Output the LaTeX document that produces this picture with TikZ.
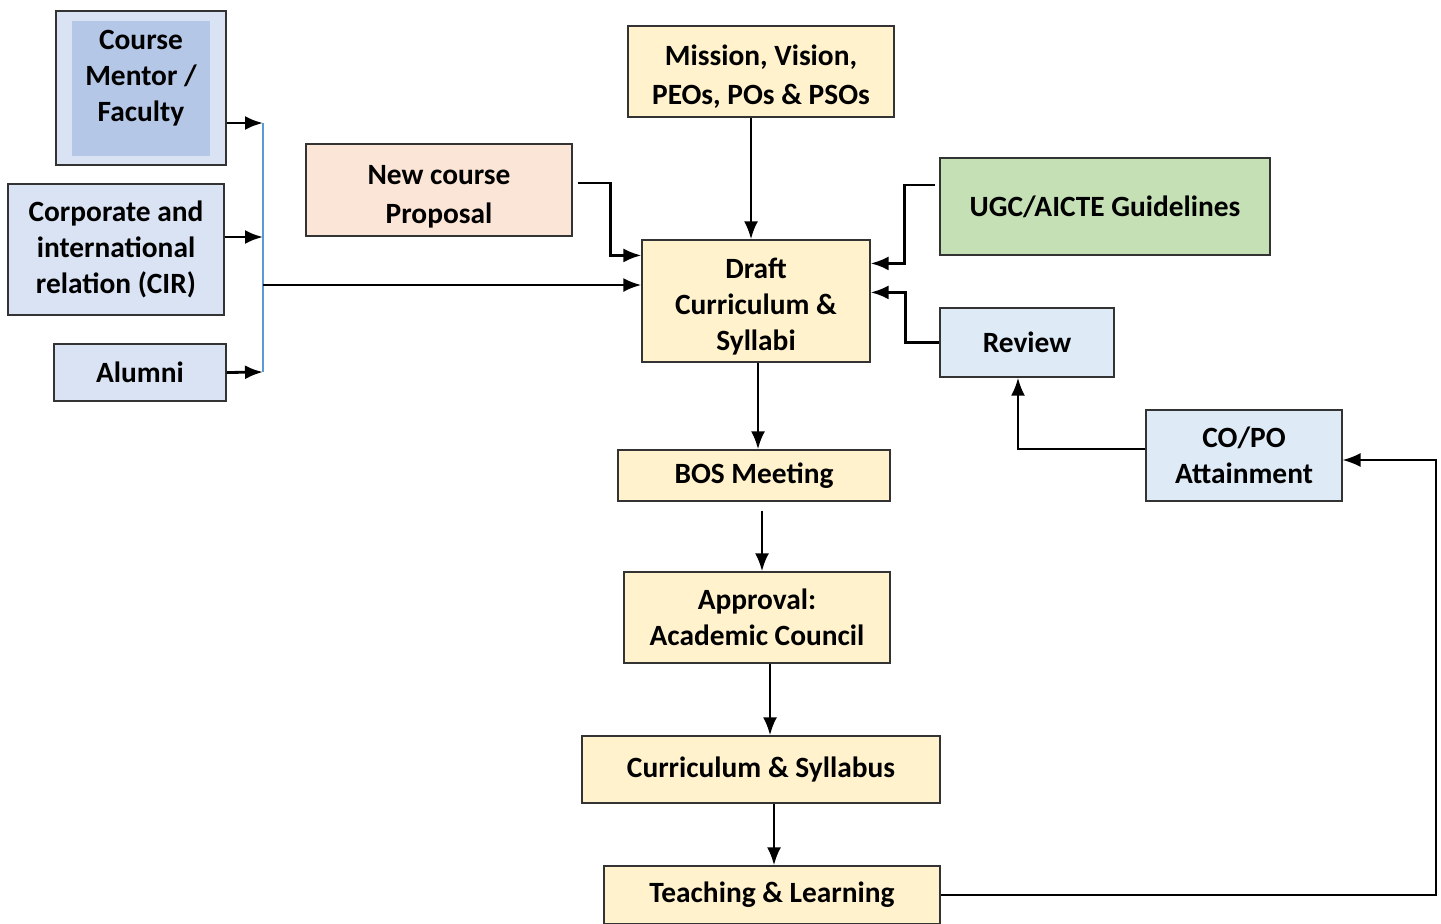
\documentclass[tikz,border=0pt]{standalone}
\usepackage{fontspec}
\setmainfont{Carlito}
\usetikzlibrary{arrows.meta}

\definecolor{mentorOuter}{HTML}{DAE3F3}
\definecolor{mentorInner}{HTML}{B4C7E7}
\definecolor{inputBlue}{HTML}{DAE3F3}
\definecolor{proposalPeach}{HTML}{FBE5D6}
\definecolor{stepCream}{HTML}{FFF2CC}
\definecolor{ugcGreen}{HTML}{C5E0B4}
\definecolor{reviewBlue}{HTML}{DEEBF7}
\definecolor{busBlue}{HTML}{5B9BD5}

\tikzset{
  label/.style={font=\bfseries\fontsize{14.7}{18}\selectfont, align=center},
  box/.style={label, draw=black!80, line width=0.6pt, inner sep=0pt},
  arr/.style={line width=1.4pt, -{Latex[length=9pt,width=7pt]}},
  loopline/.style={line width=0.9pt, -{Latex[length=9pt,width=7pt]}},
  bus/.style={busBlue, line width=0.8pt}
}

\begin{document}
\begin{tikzpicture}[x=0.5pt, y=-0.5pt]
    % page frame
    \clip (0,0) rectangle (1441,923);

    % Input boxes on the left
    \node[box, fill=mentorOuter, minimum width=85pt, minimum height=77pt] (mentor) at (141,88) {};
    \node[fill=mentorInner, inner sep=0pt, minimum width=69pt, minimum height=67.5pt] (mentorInner) at (141,88.5) {};
    \node[label] (mentorText) at (141,78) {Course\\Mentor /\\Faculty};
    \node[box, fill=inputBlue, minimum width=108pt, minimum height=65.5pt] (cir) at (116,249.5) {Corporate and\\international\\relation (CIR)};
    \node[box, fill=inputBlue, minimum width=86pt, minimum height=28.5pt] (alumni) at (140,372.5) {Alumni};

    % Collecting bus
    \coordinate (busTop) at (263,123);
    \coordinate (busMid) at (263,237);
    \coordinate (busOut) at (263,285);
    \coordinate (busBot) at (263,372);

    % Other sources
    \node[box, fill=proposalPeach, minimum width=133pt, minimum height=46pt] (proposal) at (439,190) {\rule{0pt}{16pt}New course\\[1.5pt]Proposal};
    \node[box, fill=stepCream, minimum width=133pt, minimum height=45.5pt] (mission) at (761,71.5) {\rule{0pt}{15pt}Mission, Vision,\\[1.5pt]PEOs, POs \& PSOs};
    \node[box, fill=ugcGreen, minimum width=165pt, minimum height=48.5pt] (ugc) at (1105,206.5) {UGC/AICTE Guidelines};
    \node[box, fill=reviewBlue, minimum width=87pt, minimum height=34.5pt] (review) at (1027,342.5) {Review};
    \node[box, fill=reviewBlue, minimum width=98pt, minimum height=45.5pt] (copo) at (1244,455.5) {CO/PO\\Attainment};

    % Main flow
    \node[box, fill=stepCream, minimum width=114pt, minimum height=61pt] (draft) at (756,301) {\rule{0pt}{16pt}Draft\\Curriculum \&\\Syllabi};
    \node[box, fill=stepCream, minimum width=136pt, minimum height=25.5pt] (bos) at (754,475.5) {BOS Meeting};
    \node[box, fill=stepCream, minimum width=133pt, minimum height=45.5pt] (approval) at (757,617.5) {Approval:\\Academic Council};
    \node[box, fill=stepCream, minimum width=179pt, minimum height=33.5pt] (curriculum) at (761,769.5) {Curriculum \& Syllabus};
    \node[box, fill=stepCream, minimum width=168pt, minimum height=29pt] (teaching) at (772,895) {Teaching \& Learning};
    \coordinate (loopCorner) at (1436,895);

    % Left inputs into the bus
    \draw[bus] (busTop) -- (busBot);
    \draw[arr] (mentor.east |- busTop) -- (busTop);
    \draw[arr] (cir.east |- busMid) -- (busMid);
    \draw[arr] (alumni.east) -- (busBot);
    \draw[arr] (busOut) -- (draft.west |- busOut);

    % Sources into the draft
    \draw[arr] ([xshift=2.5pt,yshift=3.5pt]proposal.east) -- ++(33,0) |- ([yshift=-8pt]draft.north west);
    \draw[arr] ([xshift=-5pt]mission.south) -- ([xshift=-5pt]mission.south |- draft.north);
    \draw[arr] ([xshift=-2pt,yshift=10.75pt]ugc.west) -- ++(-31,0) |- ([yshift=-12pt]draft.north east);
    \draw[arr] (review.west) -- ++(-34,0) |- ([yshift=-26.5pt]draft.north east);

    % Down the main flow
    \draw[arr] ([xshift=1pt]draft.south) -- ([xshift=1pt]draft.south |- bos.north);
    \draw[arr] ([xshift=4pt,yshift=-4.5pt]bos.south) -- ([xshift=4pt]bos.south |- approval.north);
    \draw[arr] ([xshift=6.5pt]approval.south) -- ([xshift=6.5pt]approval.south |- curriculum.north);
    \draw[arr] ([xshift=6.5pt]curriculum.south) -- ([xshift=6.5pt]curriculum.south |- teaching.north);

    % Feedback loop
    \draw[loopline] (teaching.east) -- (loopCorner) |- ([yshift=-2.25pt]copo.east);
    \draw[arr] ([yshift=3.25pt]copo.west) -| ([xshift=-4.5pt]review.south);
\end{tikzpicture}
\end{document}
